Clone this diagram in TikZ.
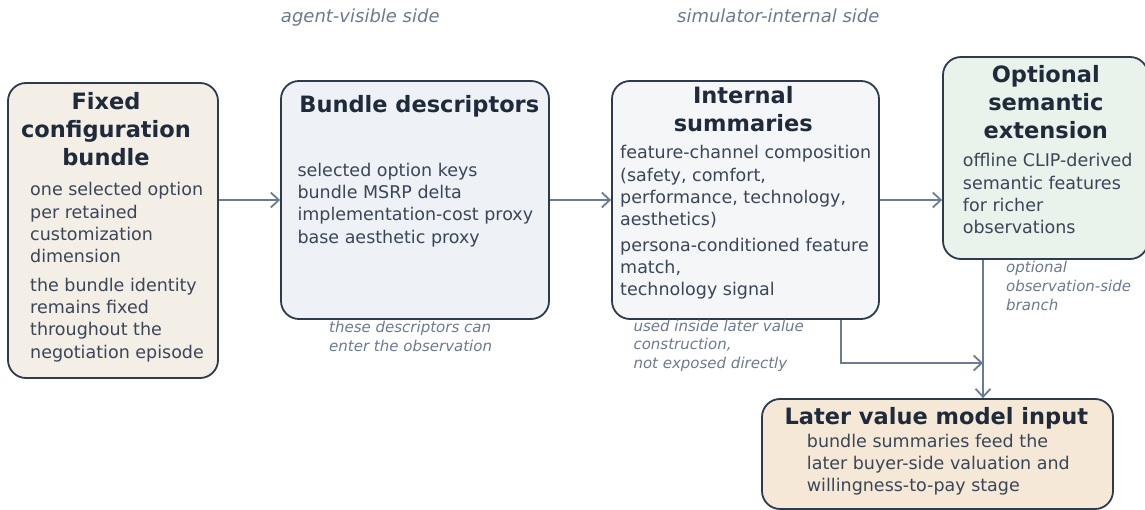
\documentclass[tikz,border=0pt]{standalone}
\usepackage{fontspec}
\setmainfont{DejaVu Sans}
\usetikzlibrary{arrows.meta}
\definecolor{bordercol}{HTML}{2E3B4E}
\definecolor{arrcol}{HTML}{6B7B93}
\definecolor{titlecol}{HTML}{1F2A3A}
\definecolor{bodycol}{HTML}{3A4657}
\definecolor{notecol}{HTML}{6B7A90}
\definecolor{fillA}{HTML}{F3EEE6}
\definecolor{fillB}{HTML}{EEF2F7}
\definecolor{fillC}{HTML}{F5F6F8}
\definecolor{fillD}{HTML}{E9F2EB}
\definecolor{fillE}{HTML}{F5E8D7}
\newcommand{\lefttxt}[1]{\parbox[t]{320pt}{\raggedright #1}}
\newcommand{\midtxt}[1]{\parbox[t]{320pt}{\centering #1}}
\tikzset{
  box/.style={draw=bordercol, line width=1.8pt, rounded corners=18pt, inner sep=0pt},
  ttl/.style={inner sep=0pt, anchor=base, text=titlecol, font=\bfseries\fontsize{22.5}{28}\selectfont},
  bdy/.style={inner sep=0pt, anchor=base west, text=bodycol, font=\fontsize{17.5}{22.2}\selectfont},
  note/.style={inner sep=0pt, anchor=base west, text=notecol, font=\itshape\fontsize{15}{18.8}\selectfont},
  hdr/.style={inner sep=0pt, anchor=base, text=notecol, font=\itshape\fontsize{18}{22}\selectfont},
  arr/.style={draw=arrcol, line width=1.8pt, -{Straight Barb[length=8pt,width=15pt]}},
}
\begin{document}
\begin{tikzpicture}[x=1pt,y=-1pt]
\useasboundingbox (0,0) rectangle (1145,510);
% headers
\node[hdr] (h1) at (360.3,23) {agent-visible side};
\node[hdr] (h2) at (778.3,23) {simulator-internal side};
% boxes
\node[box, fill=fillA, minimum width=210pt, minimum height=295pt] (b1) at (113,230.5) {};
\node[box, fill=fillB, minimum width=268pt, minimum height=238pt] (b2) at (415,200) {};
\node[box, fill=fillC, minimum width=267pt, minimum height=238pt] (b3) at (745.5,200) {};
\node[box, fill=fillD, minimum width=205pt, minimum height=202pt] (b4) at (1045.5,158) {};
\node[box, fill=fillE, minimum width=351pt, minimum height=110pt] (b5) at (937.5,454) {};
% titles
\node[ttl] (t1) at (106,110) {\midtxt{Fixed\\configuration\\bundle}};
\node[ttl] (t2) at (419.3,113) {\midtxt{Bundle descriptors}};
\node[ttl] (t3) at (743.3,104) {\midtxt{Internal\\summaries}};
\node[ttl] (t4) at (1045.8,83) {\midtxt{Optional\\semantic\\extension}};
\node[ttl] (t5) at (936.3,424) {\midtxt{Later value model input}};
% bodies
\node[bdy] (d1) at (30,196) {\lefttxt{one selected option\\per retained\\customization\\dimension\\[6.8pt]the bundle identity\\remains fixed\\throughout the\\negotiation episode}};
\node[bdy] (d2) at (297.3,176.5) {\lefttxt{selected option keys\\bundle MSRP delta\\implementation-cost proxy\\base aesthetic proxy}};
\node[bdy] (d3) at (620,159) {\lefttxt{feature-channel composition\\(safety, comfort,\\performance, technology,\\aesthetics)\\[3.5pt]persona-conditioned feature\\match,\\technology signal}};
\node[bdy] (d4) at (962.7,167) {\lefttxt{offline CLIP-derived\\semantic features\\for richer\\observations}};
\node[bdy] (d5) at (806.7,447) {\lefttxt{bundle summaries feed the\\later buyer-side valuation and\\willingness-to-pay stage}};
% notes
\node[note] (n2) at (329,332.5) {\lefttxt{these descriptors can\\enter the observation}};
\node[note] (n3) at (633.3,331) {\lefttxt{used inside later value\\construction,\\not exposed directly}};
\node[note] (n4) at (1006,272.5) {\lefttxt{optional\\observation-side\\branch}};
% connectors
\coordinate (vx) at (983,363);
\draw[arr] (b1.east |- b2.west) -- (b2.west);
\draw[arr] (b2.east) -- (b3.west);
\draw[arr] (b3.east) -- (b3.east -| b4.west);
\draw[arr] ([xshift=95.5pt]b3.south) |- (vx);
\draw[arr] (b4.south -| vx) -- (b5.north -| vx);
\end{tikzpicture}
\end{document}
